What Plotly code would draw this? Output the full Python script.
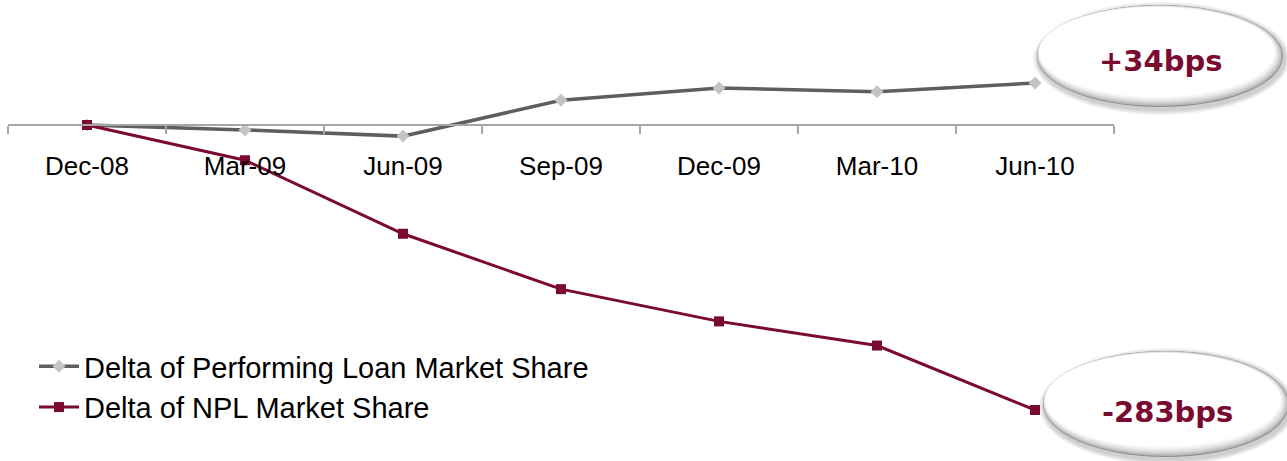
import plotly.graph_objects as go

# Quarter-end categories
quarters = ["Dec-08", "Mar-09", "Jun-09", "Sep-09", "Dec-09", "Mar-10", "Jun-10"]

# Cumulative change since Dec-08, in basis points
performing_delta_bps = [0, -4, -9, 20, 30, 27, 34]
npl_delta_bps = [0, -35, -108, -163, -195, -219, -283]

performing_name = "Delta of Performing Loan Market Share"
npl_name = "Delta of NPL Market Share"
performing_callout = "+34bps"
npl_callout = "-283bps"

W, H = 1287, 461
M_L, M_R, M_T, M_B = 8, 173, 0, 0
PLOT_W = W - M_L - M_R
PLOT_H = H - M_T - M_B

GREY_LINE = "#5e5e5e"
GREY_MARK = "#c4c4c4"
MAROON = "#7a0a30"

# Vertical scales (pixels per basis point); both series share the zero line
ZERO_PX = 125
npl_scale = 285 / 283
perf_scale = 42 / 34
npl_range = [-(PLOT_H - ZERO_PX) / npl_scale, ZERO_PX / npl_scale]
perf_range = [-(PLOT_H - ZERO_PX) / perf_scale, ZERO_PX / perf_scale]

fig = go.Figure()
fig.add_trace(go.Scatter(
    x=quarters, y=performing_delta_bps, name=performing_name, yaxis="y",
    mode="lines+markers",
    line=dict(color=GREY_LINE, width=3.5),
    marker=dict(symbol="diamond", size=10, color=GREY_MARK),
    cliponaxis=False,
))
fig.add_trace(go.Scatter(
    x=quarters, y=npl_delta_bps, name=npl_name, yaxis="y2",
    mode="lines+markers",
    line=dict(color=MAROON, width=3),
    marker=dict(symbol="square", size=10, color=MAROON),
    cliponaxis=False,
))


def px_x(px):
    return (px - M_L) / PLOT_W


def px_y(py):
    return 1 - (py - M_T) / PLOT_H


def hex_mix(c0, c1, t):
    a = [int(c0[i:i + 2], 16) for i in (1, 3, 5)]
    b = [int(c1[i:i + 2], 16) for i in (1, 3, 5)]
    return "#" + "".join(f"{round(a[k] + (b[k] - a[k]) * t):02x}" for k in range(3))


shapes = []


def bubble(cx, cy, rx, ry):
    # soft drop shadow
    for k in range(5):
        g = 5 - k
        shapes.append(dict(
            type="circle", xref="paper", yref="paper", layer="above",
            x0=px_x(cx - rx - g + 1), x1=px_x(cx + rx + g + 2),
            y0=px_y(cy + ry + g + 3), y1=px_y(cy - ry - g + 2),
            fillcolor="rgba(0,0,0,0.04)", line=dict(width=0),
        ))
    # bevelled body: grey rim heavier towards bottom-right, white core
    n = 14
    for i in range(n):
        t = i / (n - 1)
        col = hex_mix("#8e8e8e", "#ffffff", min(1.0, t ** 0.5 * 1.08))
        shapes.append(dict(
            type="circle", xref="paper", yref="paper", layer="above",
            x0=px_x(cx - rx + t * 2.5), x1=px_x(cx + rx - t * 10),
            y0=px_y(cy + ry - t * 12), y1=px_y(cy - ry + t * 2.5),
            fillcolor=col, line=dict(width=0),
        ))


bubble(1160, 56, 123, 51)
bubble(1166, 404, 123, 53)

callout_font = dict(family="DejaVu Sans", size=29, color=MAROON, weight="bold")
annotations = [
    dict(text=performing_callout, xref="paper", yref="paper",
         x=px_x(1160), y=px_y(61), xanchor="center", yanchor="middle",
         showarrow=False, font=callout_font),
    dict(text=npl_callout, xref="paper", yref="paper",
         x=px_x(1167), y=px_y(412), xanchor="center", yanchor="middle",
         showarrow=False, font=callout_font),
]

fig.update_layout(
    width=W, height=H,
    margin=dict(l=M_L, r=M_R, t=M_T, b=M_B, pad=0),
    paper_bgcolor="white", plot_bgcolor="white",
    showlegend=True,
    legend=dict(
        x=px_x(34), y=px_y(341), xanchor="left", yanchor="top",
        bgcolor="rgba(0,0,0,0)", borderwidth=0,
        font=dict(family="Liberation Sans, Arial", size=29, color="#000000"),
        itemwidth=40, tracegroupgap=0, traceorder="normal",
    ),
    xaxis=dict(
        type="category", range=[-0.5, len(quarters) - 0.5],
        anchor="free", position=px_y(ZERO_PX),
        showline=True, linecolor="#a6a6a6", linewidth=1.5,
        ticks="outside", tickson="boundaries", ticklen=8,
        tickcolor="#a6a6a6", tickwidth=1.5,
        ticklabelstandoff=18,
        showgrid=False, zeroline=False,
        tickfont=dict(family="Liberation Sans, Arial", size=26, color="#000000"),
    ),
    yaxis=dict(range=perf_range, visible=False, showgrid=False, zeroline=False),
    yaxis2=dict(range=npl_range, overlaying="y", visible=False,
                showgrid=False, zeroline=False),
    shapes=shapes,
    annotations=annotations,
)

fig.write_html("out.html")
